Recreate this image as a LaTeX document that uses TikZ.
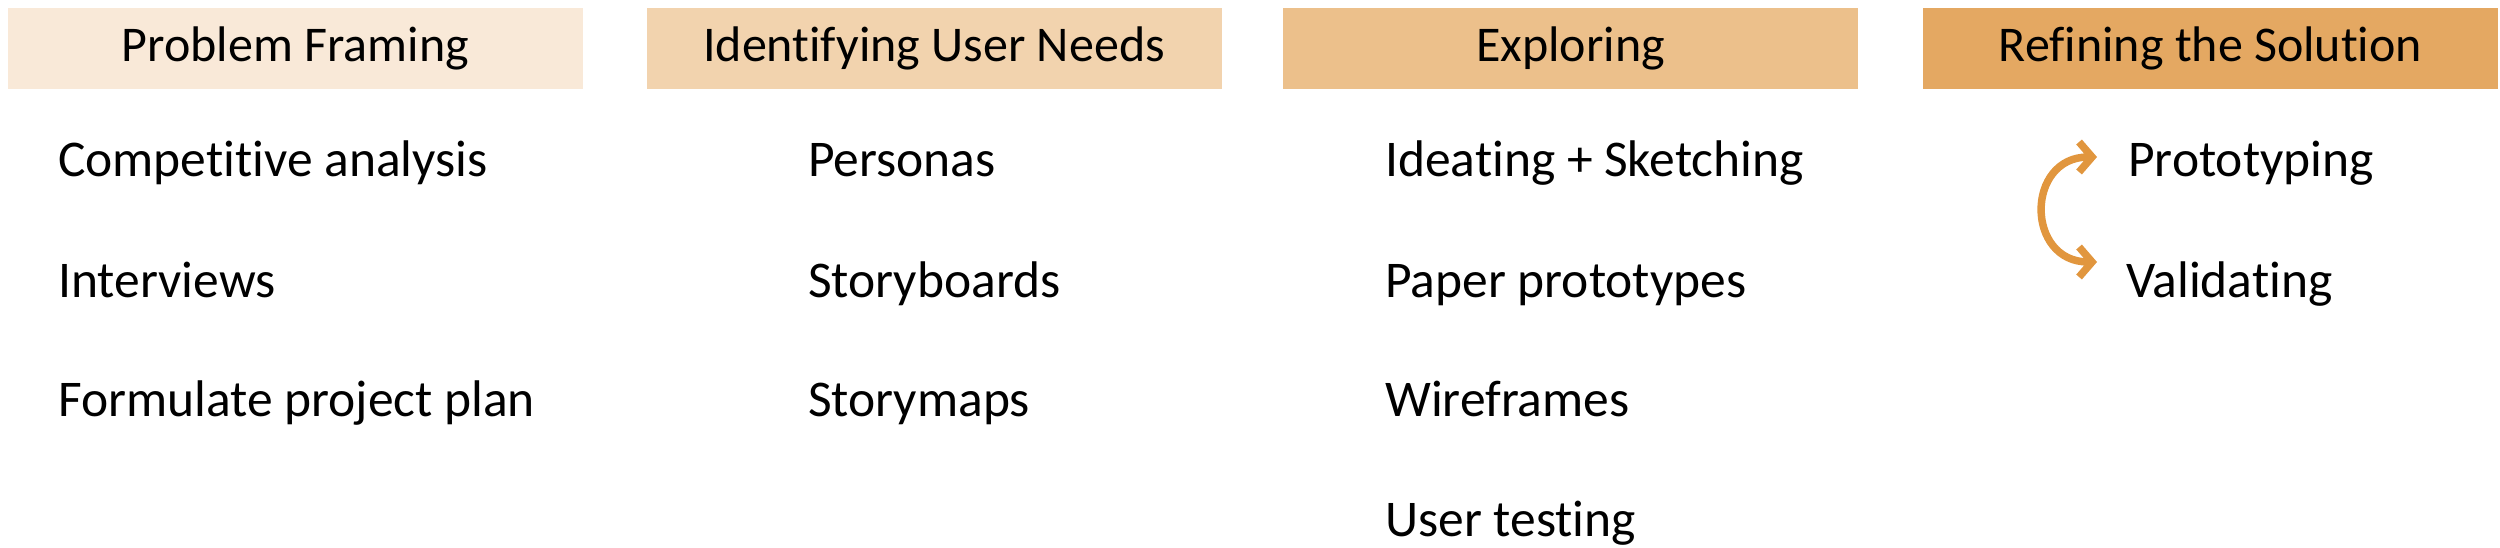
\documentclass[tikz,border=0pt]{standalone}
\usepackage{fontspec}
\setmainfont{Carlito}[Ligatures=NoCommon]
\usepackage{tikz}
\usetikzlibrary{arrows.meta}
\usetikzlibrary{positioning}
\definecolor{stageA}{RGB}{249,233,216}
\definecolor{stageB}{RGB}{242,211,174}
\definecolor{stageC}{RGB}{236,192,139}
\definecolor{stageD}{RGB}{228,168,98}
\definecolor{cyclecol}{RGB}{225,150,62}

\begin{document}
\begin{tikzpicture}[x=1pt,y=-1pt,
        stage/.style={minimum width=575pt,minimum height=81pt,inner sep=0pt,
            text height=36pt,text depth=9pt,font=\fontsize{50}{55}\selectfont},
        item/.style={anchor=base west,inner sep=0pt,font=\fontsize{51.5}{56}\selectfont},
        cyclearrow/.style={draw=cyclecol,line width=7.5pt,
            {Straight Barb[length=13pt,width=30pt]}-{Straight Barb[length=13pt,width=30pt]}}]
        \useasboundingbox (0,0) rectangle (2500,548);
        % stage headers
        \node[stage,fill=stageA] (frame) at (295.5,48.5) {Problem Framing};
        \node[stage,fill=stageB] (needs) at (934,48.5) {Identifying User Needs};
        \node[stage,fill=stageC] (explore) at (1570.5,48.5) {Exploring};
        \node[stage,fill=stageD] (refine) at (2210.5,48.5) {Refining the Solution};
        % problem framing
        \node[item] (compet) at (58,177) {Competitive analysis};
        \node[item] (interv) at (58,297) {Interviews};
        \node[item] (plan) at (58,416) {Formulate project plan};
        % user needs
        \node[item] (persona) at (808,177) {Personas};
        \node[item] (storyb) at (808,297) {Storyboards};
        \node[item] (storym) at (808,416) {Storymaps};
        % exploring
        \node[item] (ideate) at (1385,177) {Ideating + Sketching};
        \node[item] (paper) at (1385,297) {Paper prototypes};
        \node[item] (wire) at (1385,416) {Wireframes};
        \node[item] (usertest) at (1385,536) {User testing};
        % refining
        \node[item] (proto) at (2128,177) {Prototyping};
        \node[item] (valid) at (2126,297) {Validating};
        \draw[cyclearrow] ([shift={(-31,-20)}]proto.base west)
            to[out=180,in=180,looseness=1.75] ([shift={(-29,-35)}]valid.base west);
    \end{tikzpicture}
\end{document}
